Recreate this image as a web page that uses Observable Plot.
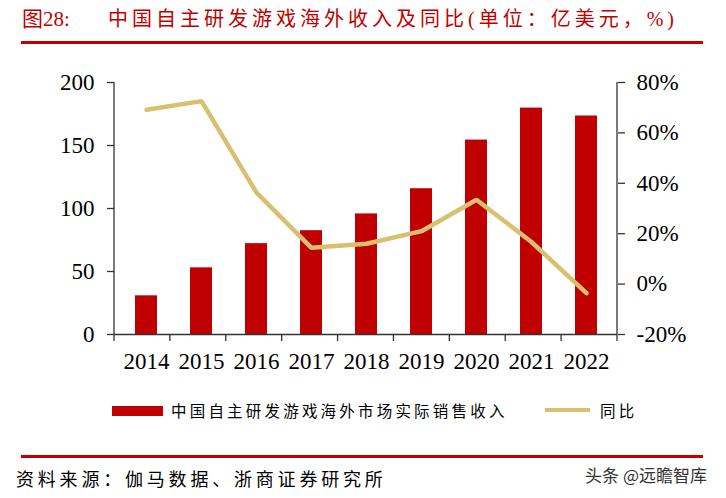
<!DOCTYPE html>
<html><head><meta charset="utf-8">
<script src="https://cdn.jsdelivr.net/npm/d3@7"></script>
<script src="https://cdn.jsdelivr.net/npm/@observablehq/plot@0.6"></script>
<style>
body{margin:0;background:#fff;}
#wrap{position:relative;width:726px;height:498px;overflow:hidden;background:#fff;}
#wrap div.t{position:absolute;white-space:nowrap;}
#chart{position:absolute;left:0;top:0;}
</style></head>
<body><div id="wrap">
<div class="t" style="left:22px;top:6px;font:21px/26px 'Liberation Serif','Noto Sans CJK SC',serif;color:#C00000;" id="titleNum"></div>
<div class="t" style="left:108px;top:6px;font:20px/26px 'Liberation Serif','Noto Sans CJK SC',serif;color:#C00000;letter-spacing:4px;" id="titleText"></div>
<div class="t" style="left:21px;top:41px;width:682px;height:2.5px;background:#C00000;"></div>
<div id="chart"></div>
<div class="t" style="left:112px;top:406px;width:51px;height:10px;background:#C00000;"></div>
<div class="t" style="left:171px;top:400px;font:15.5px/20px 'Noto Sans CJK SC',sans-serif;letter-spacing:3.2px;color:#000;" id="leg1"></div>
<div class="t" style="left:545px;top:408px;width:45px;height:4px;background:#D9BF70;"></div>
<div class="t" style="left:600px;top:400px;font:15.5px/20px 'Noto Sans CJK SC',sans-serif;letter-spacing:3.2px;color:#000;" id="leg2"></div>
<div class="t" style="left:21px;top:455px;width:682px;height:2.5px;background:#C00000;"></div>
<div class="t" style="left:16px;top:466px;font:18px/24px 'Noto Sans CJK SC',sans-serif;letter-spacing:3.8px;color:#000;" id="source"></div>
<div class="t" style="right:19px;top:463px;font:17px/24px 'Noto Sans CJK SC',sans-serif;color:#333;" id="wm"></div>
</div>
<script>
const years = ["2014","2015","2016","2017","2018","2019","2020","2021","2022"];
const revenue = [30.7, 52.9, 72.1, 82.4, 95.7, 115.7, 154.3, 179.7, 173.4];
const growth = [69.2, 72.6, 36.3, 14.4, 16.0, 21.0, 33.5, 16.7, -3.6];
const leftTicks = [0, 50, 100, 150, 200];
const rightTicks = [-20, 0, 20, 40, 60, 80];
const titleNum = "图28:";
const titleText = "中国自主研发游戏海外收入及同比(单位：亿美元，%)";
const legendBar = "中国自主研发游戏海外市场实际销售收入";
const legendLine = "同比";
const sourceText = "资料来源：伽马数据、浙商证券研究所";
const watermark = "头条 @远瞻智库";

document.getElementById("titleNum").textContent = titleNum;
document.getElementById("titleText").textContent = titleText;
document.getElementById("leg1").textContent = legendBar;
document.getElementById("leg2").textContent = legendLine;
document.getElementById("source").textContent = sourceText;
document.getElementById("wm").textContent = watermark;

const data = years.map((y, i) => ({year: y, revenue: revenue[i], growth: growth[i]}));
// right axis (-20%..80%) mapped onto left axis (0..200)
const toLeft = p => (p + 20) * 2;
const fromLeft = v => v / 2 - 20;

const plot = Plot.plot({
  width: 726, height: 400,
  marginTop: 82, marginBottom: 66, marginLeft: 114, marginRight: 109,
  style: {fontFamily: "'Liberation Serif', 'Times New Roman', serif", fontSize: "23px", color: "#000", background: "transparent"},
  x: {domain: years, paddingInner: 0.6, paddingOuter: 0.3},
  y: {domain: [0, 200]},
  marks: [
    Plot.barY(data, {x: "year", y: "revenue", fill: "#C00000"}),
    Plot.lineY(data, {x: "year", y: d => toLeft(d.growth), stroke: "#D9BF70", strokeWidth: 4.5, strokeLinejoin: "miter"}),
    Plot.axisY({ticks: leftTicks, anchor: "left", tickSize: 7, tickPadding: 13, stroke: "#333", strokeWidth: 1.3, label: null}),
    Plot.axisY({ticks: rightTicks.map(toLeft), tickFormat: v => fromLeft(v) + "%", anchor: "right", tickSize: 7, tickPadding: 12, stroke: "#333", strokeWidth: 1.3, label: null}),
    Plot.axisX({tickSize: 0, tickPadding: 18, label: null}),
    Plot.ruleY([0], {stroke: "#333", strokeWidth: 1.3})
  ]
});
document.getElementById("chart").appendChild(plot);

// axis lines and band-boundary ticks from the plot's own scales
const xs = plot.scale("x"), ys = plot.scale("y");
const [x0, x1] = xs.range;
const step = (x1 - x0) / years.length;
const yBase = ys.apply(0), yTop = ys.apply(200);
const svg = d3.select(plot);
const g = svg.append("g").attr("stroke", "#333").attr("stroke-width", 1.3);
g.append("line").attr("x1", x0).attr("x2", x0).attr("y1", yTop).attr("y2", yBase);
g.append("line").attr("x1", x1).attr("x2", x1).attr("y1", yTop).attr("y2", yBase);
d3.range(years.length + 1).forEach(i => {
  const x = x0 + i * step;
  g.append("line").attr("x1", x).attr("x2", x).attr("y1", yBase).attr("y2", yBase + 7);
});
</script>
</body></html>
